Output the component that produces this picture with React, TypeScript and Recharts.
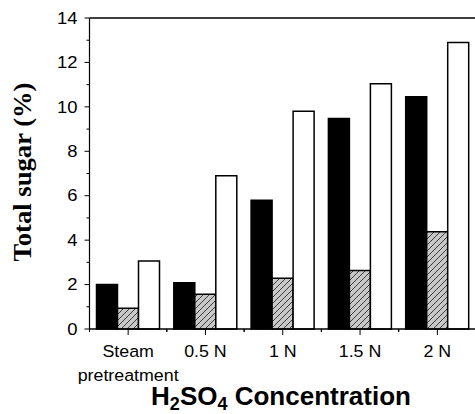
import React from "react";
import { BarChart, Bar, XAxis, YAxis, ReferenceLine } from "recharts";

// categories and values
const categories = ["Steam\npretreatment", "0.5 N", "1 N", "1.5 N", "2 N"];
const solidSeries = [2.0, 2.08, 5.8, 9.48, 10.46];
const hatchSeries = [0.93, 1.56, 2.28, 2.63, 4.38];
const openSeries = [3.06, 6.9, 9.8, 11.04, 12.9];
const yTicks = [0, 1, 2, 3, 4, 5, 6, 7, 8, 9, 10, 11, 12, 13, 14];

const data = categories.map((name, i) => ({
  name,
  solid: solidSeries[i],
  hatch: hatchSeries[i],
  open: openSeries[i],
}));

const CHART_W = 490;
const CHART_H = 414;
const Y_W = 89.5;
const MARGIN = { top: 18, right: 14, left: 0, bottom: 0 };
const BAND = (CHART_W - MARGIN.right - MARGIN.left - Y_W) / categories.length;
const SANS = "'Liberation Sans', Arial, sans-serif";
const SERIF = "'Liberation Serif', 'Times New Roman', serif";

const YTick = (props: any) => {
  const { x, y, payload } = props;
  const major = payload.value % 2 === 0;
  return (
    <g>
      <line x1={x - (major ? 5 : 3)} x2={x} y1={y} y2={y} stroke="#000" strokeWidth={1} />
      {major && (
        <g transform={`translate(${x - 12},${y}) scale(1.12,1)`}>
          <text
            textAnchor="end"
            dominantBaseline="central"
            fontFamily={SANS}
            fontSize={16.5}
            fill="#000"
          >
            {payload.value}
          </text>
        </g>
      )}
    </g>
  );
};

const XTick = (props: any) => {
  const { x, y, payload } = props;
  const lines = String(payload.value).split("\n");
  return (
    <g>
      <line x1={x} x2={x} y1={y} y2={y + 6} stroke="#000" />
      <line x1={x - BAND / 2} x2={x - BAND / 2} y1={y} y2={y + 3} stroke="#000" />
      <line x1={x + BAND / 2} x2={x + BAND / 2} y1={y} y2={y + 3} stroke="#000" />
      {lines.map((t, i) => (
        <g key={i} transform={`translate(${x},${y + 28 + i * 24}) scale(1.08,1)`}>
          <text textAnchor="middle" fontFamily={SANS} fontSize={16.5} fill="#000">
            {t}
          </text>
        </g>
      ))}
    </g>
  );
};

export default function App() {
  return (
    <div
      style={{
        position: "absolute",
        left: 0,
        top: 0,
        width: 475,
        height: 414,
        overflow: "hidden",
        background: "#fff",
      }}
    >
      <svg width={0} height={0} style={{ position: "absolute" }}>
        <defs>
          <pattern id="hatch" patternUnits="userSpaceOnUse" width={6} height={6}>
            <rect width={6} height={6} fill="#c8c8c8" />
            <path d="M-1,1 l2,-2 M0,6 l6,-6 M5,7 l2,-2" stroke="#000" strokeWidth={0.7} />
          </pattern>
        </defs>
      </svg>
      <BarChart
        width={CHART_W}
        height={CHART_H}
        data={data}
        margin={MARGIN}
        barGap={0}
        barSize={21}
      >
        <XAxis
          dataKey="name"
          interval={0}
          height={85}
          tickSize={0}
          tickMargin={0}
          tick={<XTick />}
          axisLine={{ stroke: "#000", strokeWidth: 1.5 }}
        />
        <YAxis
          domain={[0, 14]}
          ticks={yTicks}
          interval={0}
          width={Y_W}
          tickSize={0}
          tickMargin={0}
          tick={<YTick />}
          axisLine={{ stroke: "#000", strokeWidth: 1.2 }}
        />
        <ReferenceLine y={14} stroke="#000" strokeWidth={1.5} />
        <Bar dataKey="solid" fill="#000" stroke="#000" strokeWidth={1.5} isAnimationActive={false} />
        <Bar dataKey="hatch" fill="url(#hatch)" stroke="#000" strokeWidth={1.5} isAnimationActive={false} />
        <Bar dataKey="open" fill="#fff" stroke="#000" strokeWidth={1.5} isAnimationActive={false} />
      </BarChart>
      <svg
        width={475}
        height={414}
        style={{ position: "absolute", left: 0, top: 0, pointerEvents: "none" }}
      >
        <text
          transform="translate(31,172) rotate(-90)"
          textAnchor="middle"
          fontFamily={SERIF}
          fontWeight="bold"
          fontSize={25}
          textLength={179}
          lengthAdjust="spacingAndGlyphs"
          fill="#000"
        >
          Total sugar (%)
        </text>
        <text
          x={281}
          y={405}
          textAnchor="middle"
          fontFamily={SANS}
          fontWeight="bold"
          fontSize={26}
          fill="#000"
        >
          H<tspan fontSize={18} dy={5}>2</tspan>
          <tspan dy={-5}>SO</tspan>
          <tspan fontSize={18} dy={5}>4</tspan>
          <tspan dy={-5}> Concentration</tspan>
        </text>
      </svg>
    </div>
  );
}
